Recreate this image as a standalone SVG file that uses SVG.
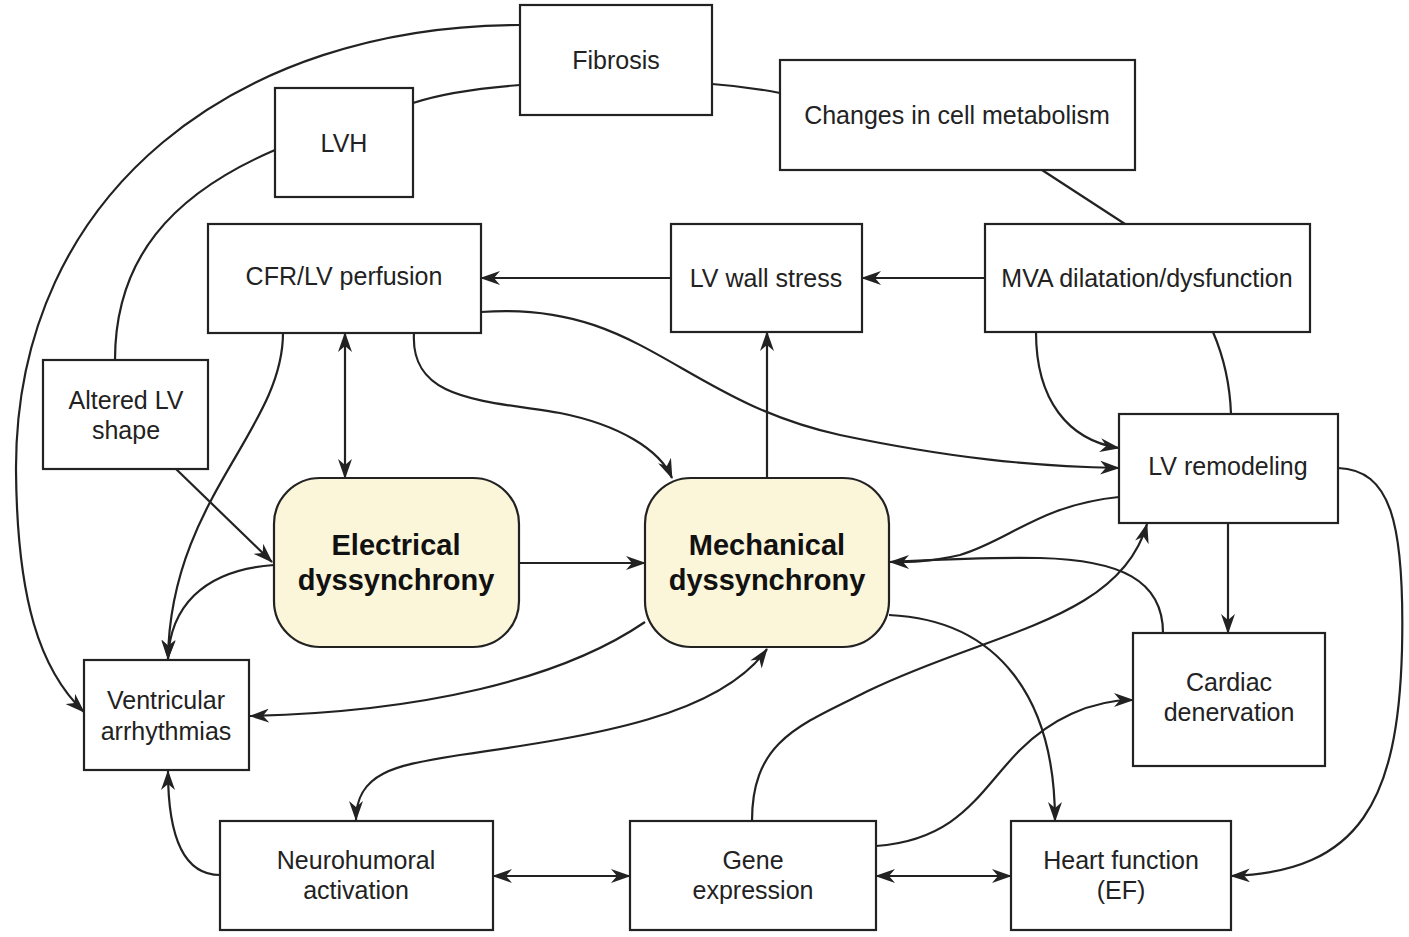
<svg xmlns="http://www.w3.org/2000/svg" width="1409" height="937" viewBox="0 0 1409 937">
<style>
.box{fill:#fff;stroke:#222;stroke-width:2.2}
.dys{fill:#fbf5da;stroke:#222;stroke-width:2.2}
.t{font-family:"Liberation Sans",Arial,sans-serif;font-size:25px;fill:#222;text-anchor:middle;dominant-baseline:central}
.b{font-family:"Liberation Sans",Arial,sans-serif;font-size:29px;font-weight:bold;fill:#111;text-anchor:middle;dominant-baseline:central}
.c{fill:none;stroke:#222;stroke-width:2.2}
</style>
<defs>
<marker id="ah" viewBox="0 0 20 14" refX="19" refY="7" markerWidth="20" markerHeight="14" markerUnits="userSpaceOnUse" orient="auto-start-reverse">
<path d="M0,0 L20,7 L0,14 L6,7 z" fill="#222"/>
</marker>
</defs>
<g id="connectors">
<path class="c" d="M520,25 C 240,25 15,190 16,470 C 17,600 40,670 84,712" marker-end="url(#ah)"/>
<path class="c" d="M520,85 C 480,88 440,94 413,103"/>
<path class="c" d="M275,150 C 170,195 115,260 115,360"/>
<path class="c" d="M712,84 C 740,86 760,89 780,93"/>
<path class="c" d="M1042,170 L1125,224"/>
<path class="c" d="M985,278 L862,278" marker-end="url(#ah)"/>
<path class="c" d="M671,278 L481,278" marker-end="url(#ah)"/>
<path class="c" d="M1036,332 C 1036,400 1068,440 1119,448" marker-end="url(#ah)"/>
<path class="c" d="M1213,332 C 1225,360 1230,385 1231,414"/>
<path class="c" d="M481,312 C 640,300 680,400 840,435 C 950,458 1030,466 1119,468" marker-end="url(#ah)"/>
<path class="c" d="M345,333 L345,478" marker-start="url(#ah)" marker-end="url(#ah)"/>
<path class="c" d="M414,333 C 410,400 480,400 560,413 C 620,425 660,450 672,478" marker-end="url(#ah)"/>
<path class="c" d="M283,333 C 283,430 170,500 168,659" marker-end="url(#ah)"/>
<path class="c" d="M176,469 L272,562" marker-end="url(#ah)"/>
<path class="c" d="M274,565 C 200,570 170,610 168,659" marker-end="url(#ah)"/>
<path class="c" d="M519,563 L645,563" marker-end="url(#ah)"/>
<path class="c" d="M645,622 C 560,680 420,712 250,716" marker-end="url(#ah)"/>
<path class="c" d="M356,820 C 356,770 400,765 460,755 C 600,735 720,715 767,649" marker-start="url(#ah)" marker-end="url(#ah)"/>
<path class="c" d="M220,875 C 180,875 168,830 168,771" marker-end="url(#ah)"/>
<path class="c" d="M493,876 L630,876" marker-start="url(#ah)" marker-end="url(#ah)"/>
<path class="c" d="M876,876 L1011,876" marker-start="url(#ah)" marker-end="url(#ah)"/>
<path class="c" d="M752,821 C 752,740 800,725 870,690 C 990,632 1120,620 1147,524" marker-end="url(#ah)"/>
<path class="c" d="M876,846 C 960,840 980,790 1020,750 C 1050,720 1090,700 1133,700" marker-end="url(#ah)"/>
<path class="c" d="M889,615 C 1000,620 1055,700 1055,821" marker-end="url(#ah)"/>
<path class="c" d="M1119,497 C 1040,505 1010,540 960,555 C 930,562 910,562 890,562" marker-end="url(#ah)"/>
<path class="c" d="M1163,633 C 1163,580 1120,560 1040,558 C 980,557 930,560 890,562"/>
<path class="c" d="M1228,523 L1228,633" marker-end="url(#ah)"/>
<path class="c" d="M1338,468 C 1390,470 1405,520 1402,650 C 1398,800 1360,872 1231,876" marker-end="url(#ah)"/>
<path class="c" d="M767,478 L767,332" marker-end="url(#ah)"/>
</g>
<g id="fibrosis"><rect class="box" x="520" y="5" width="192" height="110"/><text class="t" x="616" y="60">Fibrosis</text></g>
<g id="lvh"><rect class="box" x="275" y="88" width="138" height="109"/><text class="t" x="344" y="143">LVH</text></g>
<g id="metabolism"><rect class="box" x="780" y="60" width="355" height="110"/><text class="t" x="957" y="115">Changes in cell metabolism</text></g>
<g id="cfr"><rect class="box" x="208" y="224" width="273" height="109"/><text class="t" x="344" y="276">CFR/LV perfusion</text></g>
<g id="wallstress"><rect class="box" x="671" y="224" width="191" height="108"/><text class="t" x="766" y="278">LV wall stress</text></g>
<g id="mva"><rect class="box" x="985" y="224" width="325" height="108"/><text class="t" x="1147" y="278">MVA dilatation/dysfunction</text></g>
<g id="altered"><rect class="box" x="43" y="360" width="165" height="109"/><text class="t" x="126" y="400">Altered LV</text><text class="t" x="126" y="430">shape</text></g>
<g id="remodeling"><rect class="box" x="1119" y="414" width="219" height="109"/><text class="t" x="1228" y="466">LV remodeling</text></g>
<g id="electrical"><rect class="dys" x="274" y="478" width="245" height="169" rx="46" ry="46"/><text class="b" x="396" y="545">Electrical</text><text class="b" x="396" y="580">dyssynchrony</text></g>
<g id="mechanical"><rect class="dys" x="645" y="478" width="244" height="169" rx="46" ry="46"/><text class="b" x="767" y="545">Mechanical</text><text class="b" x="767" y="580">dyssynchrony</text></g>
<g id="arrhythmias"><rect class="box" x="84" y="660" width="165" height="110"/><text class="t" x="166" y="700">Ventricular</text><text class="t" x="166" y="731">arrhythmias</text></g>
<g id="denervation"><rect class="box" x="1133" y="633" width="192" height="133"/><text class="t" x="1229" y="682">Cardiac</text><text class="t" x="1229" y="712">denervation</text></g>
<g id="neurohumoral"><rect class="box" x="220" y="821" width="273" height="109"/><text class="t" x="356" y="860">Neurohumoral</text><text class="t" x="356" y="890">activation</text></g>
<g id="gene"><rect class="box" x="630" y="821" width="246" height="109"/><text class="t" x="753" y="860">Gene</text><text class="t" x="753" y="890">expression</text></g>
<g id="heart"><rect class="box" x="1011" y="821" width="220" height="109"/><text class="t" x="1121" y="860">Heart function</text><text class="t" x="1121" y="890">(EF)</text></g>
</svg>
